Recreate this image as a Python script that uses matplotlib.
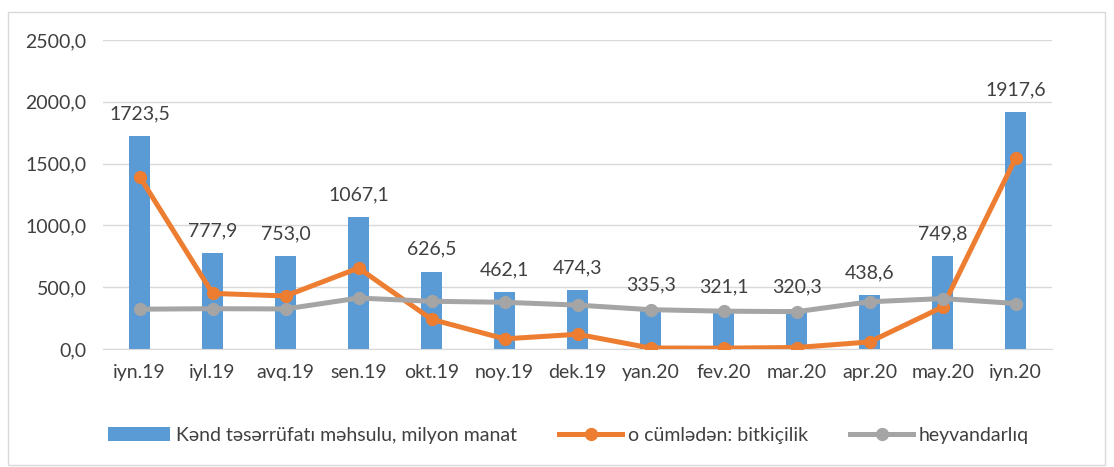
import matplotlib.pyplot as plt
from matplotlib.patches import Rectangle
from matplotlib.ticker import FuncFormatter

plt.rcParams['font.family'] = ['Lato', 'DejaVu Sans']

months = ["iyn.19", "iyl.19", "avq.19", "sen.19", "okt.19", "noy.19", "dek.19",
          "yan.20", "fev.20", "mar.20", "apr.20", "may.20", "iyn.20"]
total = [1723.5, 777.9, 753.0, 1067.1, 626.5, 462.1, 474.3,
         335.3, 321.1, 320.3, 438.6, 749.8, 1917.6]
crops = [1395, 450, 429, 655, 240, 82, 119, 8, 7, 12, 57, 340, 1545]
livestock = [322, 326, 324, 412, 386, 378, 355, 318, 306, 302, 382, 408, 368]

fig = plt.figure(figsize=(11.14, 4.67), dpi=100)
ax = fig.add_axes([0.0925, 0.2527, 0.852, 0.6616])

x = range(len(months))
b = ax.bar(x, total, width=0.29, color='#5B9BD5', label="Kənd təsərrüfatı məhsulu, milyon manat", zorder=2)
l1, = ax.plot(x, crops, color='#ED7D31', lw=3.6, marker='o', ms=8.5, label="o cümlədən: bitkiçilik", zorder=3)
l2, = ax.plot(x, livestock, color='#A5A5A5', lw=3.6, marker='o', ms=8.5, label="heyvandarlıq", zorder=3)

for i, v in enumerate(total):
    ax.annotate(f"{v:.1f}".replace('.', ','), (i, v), xytext=(0, 10), textcoords='offset points',
                ha='center', va='bottom', fontsize=14, color='#404040')

ax.set_ylim(0, 2500)
ax.set_xlim(-0.5, len(months) - 0.5)
ax.set_yticks(range(0, 2501, 500))
ax.yaxis.set_major_formatter(FuncFormatter(lambda v, p: f"{v:.1f}".replace('.', ',')))
ax.set_xticks(list(x))
ax.set_xticklabels(months)
ax.tick_params(axis='both', length=0, labelsize=14, colors='#404040')
ax.tick_params(axis='x', pad=11)
ax.tick_params(axis='y', pad=12)
ax.grid(axis='y', color='#d9d9d9', lw=1, zorder=0)
for s in ['top', 'right', 'left']:
    ax.spines[s].set_visible(False)
ax.spines['bottom'].set_color('#d9d9d9')

fig.legend([b, l1, l2], [b.get_label(), l1.get_label(), l2.get_label()],
           loc='center', bbox_to_anchor=(0.51, 0.068), ncol=3, frameon=False,
           fontsize=14, handlelength=3.2, columnspacing=2.2, handletextpad=0.3,
           labelcolor='#404040')

fig.patches.append(Rectangle((0.007, 0.005), 0.985, 0.97, transform=fig.transFigure,
                             fill=False, edgecolor='#d9d9d9', lw=1))

fig.savefig("out.png", dpi=100)
